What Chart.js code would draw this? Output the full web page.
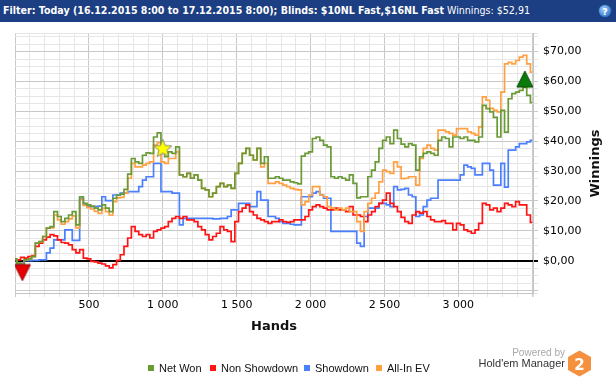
<!DOCTYPE html>
<html>
<head>
<meta charset="utf-8">
<script src="https://cdn.jsdelivr.net/npm/chart.js@4/dist/chart.umd.min.js"></script>
<style>
  html, body { margin: 0; padding: 0; background: #fff; }
  body { width: 616px; height: 380px; position: relative; overflow: hidden; font-family: "DejaVu Sans", sans-serif; }
  #hdr { position: absolute; left: 0; top: 0; width: 616px; height: 22px; background: #1c3e82; }
  #hdrtext { position: absolute; left: 3px; top: 4px; color: #fff; font-size: 11px; white-space: nowrap; display: inline-block; transform-origin: left center; }
  #hdrtext b { font-weight: bold; }
  #help { position: absolute; left: 598px; top: 4px; }
  #wrap { position: absolute; left: 0; top: 22px; width: 616px; height: 300px; }
  #xtitle { position: absolute; left: 174px; width: 200px; top: 318px; text-align: center; font-weight: bold; font-size: 13px; color: #111; }
  #ytitle { position: absolute; left: 544px; top: 156px; width: 100px; text-align: center; font-weight: bold; font-size: 13px; color: #111; transform: rotate(-90deg); }
  #legend { position: absolute; left: 0; top: 360px; width: 616px; height: 16px; font-family: "Liberation Sans", Arial, sans-serif; font-size: 11px; color: #111; }
  #legend .it { position: absolute; top: 0; height: 16px; display: flex; align-items: center; white-space: nowrap; }
  #legend .sq { width: 6px; height: 6px; margin-right: 5px; }
  #pw { position: absolute; right: 51px; top: 347px; font-family: "Liberation Sans", Arial, sans-serif; font-size: 10px; color: #a8a8a8; }
  #hm { position: absolute; right: 51px; top: 357px; font-family: "Liberation Sans", Arial, sans-serif; font-size: 11px; color: #333; }
  #logo { position: absolute; left: 567px; top: 350px; }
</style>
</head>
<body>
<div id="hdr"><span id="hdrtext"><b>Filter: Today (16.12.2015 8:00 to 17.12.2015 8:00); Blinds: $10NL Fast,$16NL Fast</b> Winnings: $52,91</span>
<svg id="help" width="14" height="14" viewBox="0 0 15 15">
  <defs><radialGradient id="hg" cx="40%" cy="35%" r="70%"><stop offset="0" stop-color="#9fd0ff"/><stop offset="1" stop-color="#2b6fc4"/></radialGradient></defs>
  <circle cx="7.5" cy="7.5" r="6.8" fill="url(#hg)" stroke="#1a4f9a" stroke-width="0.6"/>
  <text x="7.5" y="11.3" text-anchor="middle" font-size="10" font-weight="bold" fill="#fff" font-family="DejaVu Sans">?</text>
</svg>
</div>
<div id="wrap"><canvas id="c" width="616" height="300"></canvas></div>
<div id="xtitle">Hands</div>
<div id="ytitle">Winnings</div>
<div id="legend"></div>
<div id="pw">Powered by</div>
<div id="hm">Hold'em Manager</div>
<svg id="logo" width="25" height="27" viewBox="0 0 25 27">
  <polygon points="12.5,0.5 24,7 24,20 12.5,26.5 1,20 1,7" fill="#f5903f"/>
  <text x="12.5" y="19.5" text-anchor="middle" font-size="15" font-weight="bold" fill="#fff" font-family="DejaVu Sans">2</text>
</svg>
<script>
// ---- data ----
const hands = [0,25,50,75,100,125,150,175,200,225,250,275,300,325,350,375,400,425,450,475,
500,525,550,575,600,625,650,675,700,725,750,775,800,825,850,875,900,925,950,975,
1000,1025,1050,1075,1100,1125,1150,1175,1200,1225,1250,1275,1300,1325,1350,1375,1400,1425,1450,1475,
1500,1525,1550,1575,1600,1625,1650,1675,1700,1725,1750,1775,1800,1825,1850,1875,1900,1925,1950,1975,
2000,2025,2050,2075,2100,2125,2150,2175,2200,2225,2250,2275,2300,2325,2350,2375,2400,2425,2450,2475,
2500,2525,2550,2575,2600,2625,2650,2675,2700,2725,2750,2775,2800,2825,2850,2875,2900,2925,2950,2975,
3000,3025,3050,3075,3100,3125,3150,3175,3200,3225,3250,3275,3300,3325,3350,3375,3400,3425,3450,3475,3500];

const netWon = [0.6,-0.8,-1.3,0.3,0.6,1.4,5.9,6.4,8.1,10.9,11.4,16.4,14.8,13.1,14.2,15.3,16.4,12.0,21.4,19.2,
18.7,18.3,17.6,17.0,18.7,17.6,16.4,20.9,22.0,22.3,23.9,29.0,34.2,33.1,32.6,35.3,36.1,35.9,41.4,42.8,
37.6,34.8,36.4,35.9,38.1,28.7,28.1,29.2,27.6,28.7,27.0,24.2,23.7,21.4,22.6,24.8,25.9,24.8,25.3,24.2,
29.2,32.6,35.9,37.6,35.3,33.7,37.6,32.6,34.8,27.6,27.6,28.1,27.6,27.0,27.0,26.4,26.1,25.7,35.0,35.9,
36.4,40.9,41.4,40.3,38.7,38.1,28.1,27.6,28.1,27.6,27.0,28.7,25.9,21.0,21.4,21.4,28.1,30.3,33.1,37.6,
40.3,41.4,39.2,43.7,40.9,39.0,38.1,39.2,38.7,30.3,34.8,35.9,36.4,35.9,35.3,40.3,41.4,40.9,38.1,41.4,
41.4,40.9,41.4,40.3,40.3,39.8,41.4,52.0,50.9,49.8,48.0,41.4,50.3,43.0,54.2,55.9,56.4,57.0,58.1,55.3,52.9];

const nonShowdown = [0.3,0.3,1.1,0.9,1.4,1.7,4.8,5.9,7.0,7.9,8.7,8.3,7.0,6.1,5.9,5.3,3.7,2.6,3.7,0.9,
0.6,-0.2,-0.4,-0.8,-1.1,-1.7,-2.4,-1.3,0.1,2.0,4.8,7.6,11.4,9.8,8.7,8.1,8.7,7.6,9.8,10.3,
10.9,11.4,13.1,14.2,14.8,14.2,14.8,13.7,13.7,13.1,11.4,10.3,8.7,7.0,8.1,9.2,11.4,10.3,9.8,6.4,
13.1,16.4,17.6,18.7,16.4,15.3,14.2,13.7,13.1,12.5,13.1,13.1,13.7,13.1,12.8,13.1,13.7,13.7,13.7,14.8,
17.0,18.1,18.7,18.1,17.6,17.0,17.0,17.6,17.0,17.0,16.4,18.1,15.3,15.3,14.8,13.1,15.3,16.4,18.1,19.2,
20.3,22.6,19.2,18.1,16.4,14.5,13.1,12.5,15.3,16.4,15.9,16.4,14.8,13.7,13.1,13.1,13.4,12.5,12.5,10.3,
12.5,12.0,10.3,9.8,9.2,10.3,12.5,19.2,18.7,17.0,17.6,16.4,17.6,19.2,18.7,18.1,19.8,18.7,18.7,15.3,12.8];

const showdown = [0,-1.3,-0.8,0,0,0.1,0.1,0.3,0.3,2.6,4.2,7.0,7.0,7.0,10.3,10.3,6.8,6.8,20.9,18.7,
18.1,18.1,18.1,18.3,21.4,20.1,20.1,22.0,22.0,22.6,22.6,23.1,23.1,23.1,24.8,27.0,28.1,28.1,32.6,32.6,
23.1,23.1,23.1,22.6,22.6,12.0,14.2,14.2,14.2,14.2,14.2,14.2,14.2,14.2,14.0,14.0,14.2,14.2,14.8,17.0,
17.0,19.2,19.2,19.2,18.1,18.1,23.1,20.3,20.3,14.8,14.8,14.2,13.1,12.5,12.5,12.2,12.0,12.0,21.4,21.4,
21.4,22.6,23.1,22.0,20.9,20.9,9.8,9.8,9.8,9.8,9.8,9.8,9.8,5.9,4.8,14.8,17.6,17.6,17.6,19.2,
19.2,18.7,18.1,24.8,23.7,23.9,24.2,22.0,21.4,14.8,15.3,18.1,20.3,20.9,20.9,27.0,27.0,27.0,27.0,27.0,
27.0,28.7,32.0,31.4,30.9,28.7,28.7,32.6,32.6,30.3,25.3,25.3,32.6,24.6,37.0,37.0,38.1,39.2,39.2,39.8,40.3];

const allInEV = [0.6,-0.8,-1.3,0.3,0.6,1.4,5.9,6.4,8.1,10.9,11.0,15.3,13.7,12.2,13.1,14.0,15.0,11.0,20.5,18.5,
17.8,17.3,16.5,15.8,17.5,16.4,15.3,19.8,21.0,21.2,22.6,27.6,32.6,31.4,31.4,32.0,32.6,33.1,38.7,39.5,
33.1,32.6,34.2,34.2,36.4,28.7,28.1,29.2,27.6,28.7,27.0,24.2,23.7,21.4,22.6,24.8,25.9,24.8,25.3,24.2,
29.2,32.6,35.9,37.6,35.3,33.7,37.6,31.4,32.6,25.9,25.9,26.4,25.9,25.3,24.8,24.2,23.9,23.7,18.7,19.8,
22.0,24.8,24.8,22.0,21.4,18.1,17.6,17.0,17.6,17.0,17.6,16.4,16.4,13.1,9.8,16.4,19.2,20.9,22.6,26.4,
30.3,29.8,29.2,33.1,31.4,27.5,27.6,28.1,28.1,25.3,34.2,37.6,38.7,37.6,37.0,43.7,43.7,43.1,42.6,42.0,
44.2,44.2,44.2,43.1,42.6,42.0,44.8,54.8,53.7,51.0,50.3,49.8,56.4,65.9,66.4,65.9,67.0,68.1,68.7,65.9,63.1];

const seriesNames = ["Net Won", "Non Showdown", "Showdown", "All-In EV"];
const seriesColors = ["#6a9a35", "#ff1414", "#4a80ff", "#ffa043"];
const seriesValues = [netWon, nonShowdown, showdown, allInEV];
const highlightHand = 1000;   // star marker hand
const xTickLabels = [500, 1000, 1500, 2000, 2500, 3000];
const yTickLabels = [0, 10, 20, 30, 40, 50, 60, 70];
const xRange = [0, 3505], xMinorStep = 100;
const yRange = [-10.8, 76], yMinorStep = 2.5;

// ---- marker images ----
function triImg(up, fill, stroke) {
  const c = document.createElement('canvas'); c.width = 18; c.height = 36;
  const g = c.getContext('2d');
  g.beginPath();
  if (up) { g.moveTo(9, 2); g.lineTo(17, 18); g.lineTo(1, 18); }
  else { g.moveTo(1, 18); g.lineTo(17, 18); g.lineTo(9, 34); }
  g.closePath(); g.fillStyle = fill; g.fill(); g.strokeStyle = stroke; g.lineWidth = 1; g.stroke();
  return c;
}
function starImg() {
  const c = document.createElement('canvas'); c.width = 22; c.height = 22;
  const g = c.getContext('2d');
  g.beginPath();
  for (let i = 0; i < 10; i++) {
    const r = i % 2 === 0 ? 9.5 : 4.2;
    const a = -Math.PI / 2 + i * Math.PI / 5;
    const px = 11 + r * Math.cos(a), py = 11.5 + r * Math.sin(a);
    if (i === 0) g.moveTo(px, py); else g.lineTo(px, py);
  }
  g.closePath(); g.fillStyle = '#ffff00'; g.fill(); g.strokeStyle = '#8a8a6a'; g.lineWidth = 1; g.stroke();
  return c;
}

const minIdx = netWon.indexOf(Math.min(...netWon));
const maxIdx = netWon.indexOf(Math.max(...netWon));
const starIdx = hands.indexOf(highlightHand);
const markerData = [
  {x: hands[minIdx], y: netWon[minIdx]},
  {x: hands[starIdx], y: netWon[starIdx]},
  {x: hands[maxIdx], y: netWon[maxIdx]}
];
const markerStyles = [triImg(false, '#e80000', '#9a0000'), starImg(), triImg(true, '#0a7a0a', '#044a04')];

// ---- legend ----
const leg = document.getElementById('legend');
const legendLefts = [148, 210, 304, 376];
seriesNames.forEach((n, i) => {
  const it = document.createElement('div'); it.className = 'it'; it.style.left = legendLefts[i] + 'px';
  const sq = document.createElement('div'); sq.className = 'sq'; sq.style.background = seriesColors[i];
  const tx = document.createElement('span'); tx.textContent = n;
  it.appendChild(sq); it.appendChild(tx); leg.appendChild(it);
});

// header fit
const ht = document.getElementById('hdrtext');
const hw = ht.getBoundingClientRect().width;
ht.style.transform = 'scaleX(' + (527 / hw) + ')';

// ---- tick positions ----
function tickList(range, step) {
  const out = [{value: range[0]}];
  const first = Math.ceil(range[0] / step + 1e-9);
  for (let k = first; k * step < range[1] - 1e-9; k++) out.push({value: Math.round(k * step * 100) / 100});
  out.push({value: range[1]});
  return out;
}

// ---- chart ----
const lineOrder = [0, 3, 1, 2]; // Net Won top, then All-In EV, Non Showdown, Showdown
const datasets = [{
  label: 'markers', data: markerData, showLine: false,
  pointStyle: markerStyles, pointRadius: 10, pointHoverRadius: 10,
  borderWidth: 0, backgroundColor: 'transparent'
}];
lineOrder.forEach(i => {
  datasets.push({
    label: seriesNames[i],
    data: hands.map((h, k) => ({x: h, y: seriesValues[i][k]})),
    borderColor: seriesColors[i], backgroundColor: seriesColors[i],
    borderWidth: 1.7, pointRadius: 0, stepped: 'middle', fill: false
  });
});

function fmtHands(v) { return String(v).replace(/\B(?=(\d{3})+(?!\d))/g, ' '); }
function fmtMoney(v) { return '$' + v.toFixed(2).replace('.', ','); }
const isZero = v => Math.abs(v) < 1e-9;

new Chart(document.getElementById('c'), {
  type: 'line',
  data: { datasets },
  options: {
    responsive: false, animation: false, devicePixelRatio: 1,
    layout: { padding: { left: 15, top: 11, right: 0, bottom: 0 } },
    plugins: { legend: { display: false }, tooltip: { enabled: false } },
    scales: {
      x: {
        type: 'linear', min: xRange[0], max: xRange[1],
        afterFit: s => { s.height = 29; },
        afterBuildTicks: s => { s.ticks = tickList(xRange, xMinorStep); },
        border: { color: '#c4c4c4', width: 1 },
        grid: {
          color: c => (c.tick && c.tick.value % 500 === 0) ? '#c8c8c8' : '#e6e6e6',
          lineWidth: 1, tickLength: 4
        },
        ticks: {
          autoSkip: false, maxRotation: 0, padding: 2,
          color: '#000', font: { family: 'DejaVu Sans', size: 11 },
          callback: v => xTickLabels.includes(v) ? fmtHands(v) : ''
        }
      },
      y: {
        position: 'right', min: yRange[0], max: yRange[1],
        afterFit: s => { s.width = 83; },
        afterBuildTicks: s => { s.ticks = tickList(yRange, yMinorStep); },
        border: { color: '#c4c4c4', width: 1 },
        grid: {
          color: c => {
            if (!c.tick) return '#e6e6e6';
            const v = c.tick.value;
            if (isZero(v)) return '#000';
            return isZero(v % 10) ? '#c8c8c8' : '#e6e6e6';
          },
          lineWidth: c => (c.tick && isZero(c.tick.value)) ? 2 : 1,
          tickLength: 5
        },
        ticks: {
          autoSkip: false, padding: 5,
          color: '#000', font: { family: 'DejaVu Sans', size: 11 },
          callback: v => yTickLabels.some(t => isZero(t - v)) ? fmtMoney(v) : ''
        }
      }
    }
  }
});
</script>
</body>
</html>
